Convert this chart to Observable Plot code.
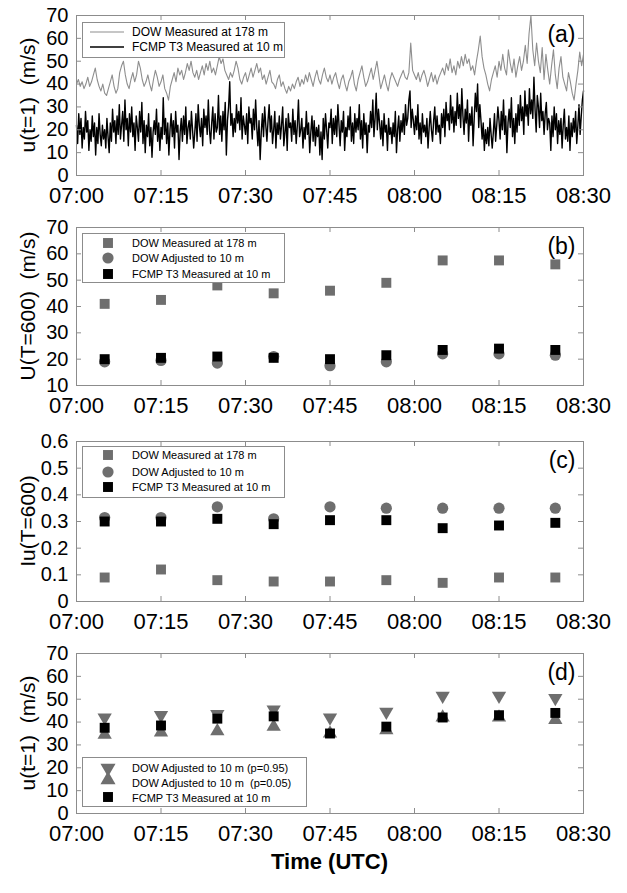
<!DOCTYPE html>
<html>
<head>
<meta charset="utf-8">
<script src="https://cdn.jsdelivr.net/npm/d3@7"></script>
<script src="https://cdn.jsdelivr.net/npm/@observablehq/plot@0.6"></script>
<style>
  body { margin: 0; background: #fff; }
  #page { position: relative; width: 627px; height: 893px; overflow: hidden;
          font-family: "Liberation Sans", Arial, Helvetica, sans-serif; background: #fff; }
  #page > svg { position: absolute; left: 0; }
  #xtitle { position: absolute; left: 76px; width: 507px; top: 849px; text-align: center;
            font-weight: bold; font-size: 22px; }
</style>
</head>
<body>
<div id="page"><div id="xtitle">Time (UTC)</div></div>
<script>
// ---- time axis (minutes after 07:00 UTC) ----
const xTicks = [0, 15, 30, 45, 60, 75, 90];
const xTickLabels = ["07:00", "07:15", "07:30", "07:45", "08:00", "08:15", "08:30"];

// ---- (a) 1-second gust series ----
// DOW at 178 m, one value every 20 s
const dowStepMin = 1 / 3;
const dow178Gust = [
  40,42,39, 41,38,40, 43,39,41, 44,47,42, 39,37,40,
  36,35,38, 41,44,39, 36,38,45, 48,50,44, 40,38,42,
  45,41,44, 50,47,42, 39,41,44, 40,37,42, 46,43,39,
  41,44,38, 36,33,39, 42,45,41, 47,44,46, 42,45,49,
  46,50,45, 43,46,42, 45,48,44, 49,46,50, 45,47,44,
  48,52,49, 51,46,44, 42,45,43, 46,50,47, 42,40,43,
  45,41,44, 47,43,46, 49,45,47, 42,44,40, 43,46,41,
  40,38,42, 44,39,41, 38,36,39, 37,40,38, 41,43,39,
  42,40,44, 41,45,42, 39,43,46, 42,40,44, 47,43,41,
  44,40,43, 45,41,38, 42,44,40, 37,41,43, 46,40,37,
  42,45,48, 43,39,41, 44,47,42, 46,50,44, 38,41,44,
  40,37,42, 45,43,41, 39,42,44, 46,43,42, 45,58,46,
  44,42,45, 41,44,46, 43,39,42, 45,41,44, 40,43,45,
  47,44,49, 46,51,45, 48,44,50, 47,52,48, 53,49,51,
  46,48,44, 50,55,61, 52,47,44, 40,37,42, 45,48,43,
  50,46,53, 47,44,55, 49,45,51, 43,48,52, 46,50,57,
  49,62,70, 55,48,58, 50,45,56, 42,53,46, 40,48,55,
  44,38,47, 52,43,40, 37,45,41, 36,33,40, 46,54,48,
  53
];
// FCMP T3 at 10 m, one value every 12 s
const fcmpStepMin = 0.2;
const fcmpGust = [
  22,14,27,18,25, 12,21,16,28,19, 24,11,20,15,26, 17,23,9,21,14, 27,18,13,22,16,
  20,12,25,17,10, 23,15,29,19,24, 14,26,18,31,16, 22,28,15,33,20, 25,13,27,19,30,
  17,23,11,26,21, 15,28,19,32,14, 24,10,22,17,27, 13,21,8,19,24, 18,29,15,23,11,
  21,16,34,18,25, 14,23,9,20,27, 17,24,12,28,19, 22,7,19,25,15, 26,18,30,14,21,
  24,16,28,20,12, 19,27,15,31,22, 17,25,13,29,21, 26,18,33,20,14, 23,30,16,27,19,
  21,35,18,26,15, 28,20,32,9,24, 30,41,22,27,17, 25,19,31,23,28, 20,34,16,26,22,
  18,27,14,30,23, 25,16,29,20,33, 21,13,24,7,19, 27,17,30,22,15, 24,31,19,26,14,
  20,28,12,23,18, 26,16,22,30,13, 19,25,11,27,21, 23,15,29,18,24, 14,22,33,17,20,
  25,12,21,16,28, 18,23,10,19,26, 15,24,13,21,17, 22,9,19,7,25, 16,27,20,12,23,
  21,29,14,25,18, 26,17,31,22,13, 24,19,28,11,21, 17,26,20,30,15, 23,14,27,19,25,
  20,31,16,24,12, 27,18,23,10,22, 19,28,21,33,17, 25,36,20,29,23, 16,24,13,27,19,
  22,11,25,18,21, 14,23,17,28,10, 20,26,15,24,19, 27,18,31,22,25, 33,37,21,29,24,
  18,26,20,31,16, 23,14,27,19,22, 17,25,12,21,28, 20,15,24,30,18, 26,19,22,14,27,
  21,29,17,32,24, 27,20,35,23,30, 19,28,22,36,25, 31,21,38,26,18, 29,23,33,15,27,
  22,30,13,25,36, 28,40,21,31,24, 16,23,11,20,14, 21,13,25,18,12, 19,27,15,22,30,
  24,16,28,20,33, 18,26,10,23,29, 21,34,17,25,14, 27,19,31,22,35, 24,30,18,37,26,
  31,22,38,27,33, 25,43,29,19,35, 30,21,36,24,28, 18,27,32,20,25, 23,11,26,17,30,
  20,27,14,24,18, 25,12,22,29,16, 21,15,26,11,23, 17,25,19,28,14, 22,31,18,26,33,
  37
];

// ---- (b)-(d) ten-minute statistics, centred on each interval ----
const intervalMid = [5, 15, 25, 35, 45, 55, 65, 75, 85];
const meanDow178 = [41, 42.5, 48, 45, 46, 49, 57.5, 57.5, 56];
const meanDowAdj10 = [19, 19.5, 18.5, 21, 17.5, 19, 22, 22, 21.5];
const meanFcmp10 = [20, 20.5, 21, 20.5, 20, 21.5, 23.5, 24, 23.5];

const iuDow178 = [0.09, 0.12, 0.08, 0.075, 0.075, 0.08, 0.07, 0.09, 0.09];
const iuDowAdj10 = [0.315, 0.315, 0.355, 0.31, 0.355, 0.35, 0.35, 0.35, 0.35];
const iuFcmp10 = [0.30, 0.30, 0.31, 0.29, 0.305, 0.305, 0.275, 0.285, 0.295];

const gustDowP95 = [42, 43, 43.5, 45.5, 42, 44.5, 51.5, 51.5, 50.5];
const gustDowP05 = [34.5, 35.5, 36, 38, 35, 36.5, 42, 42, 41];
const gustFcmp10 = [37.5, 38.5, 41.5, 42.5, 35, 38, 42, 43, 44];

// ---- styling ----
const FONT = '"Liberation Sans", Arial, Helvetica, sans-serif';
const GRAY = "#6e6e6e";
const LINE_GRAY = "#8e8e8e";
const FRAME = "#8c8c8c";
const SQ_R = 5.6, CIRC_R = 5.6, TRI_R = 5.3;

// downward-pointing triangle, mirror of d3.symbolTriangle
const triangleDown = {
  draw(context, size) {
    const s3 = Math.sqrt(3);
    const y = -Math.sqrt(size / (s3 * 3));
    context.moveTo(0, -y * 2);
    context.lineTo(-s3 * y, y);
    context.lineTo(s3 * y, y);
    context.closePath();
  }
};

const series = (values, step) => values.map((v, i) => ({t: i * step, v}));
const points = (values) => values.map((v, i) => ({t: intervalMid[i], v}));

const page = document.getElementById("page");

function panel({top, innerH, yDomain, yTicks, yFormat = String, yLabel, tag, marks}) {
  const W = 627, ml = 76, mr = 44, mt = 15, mb = 35;
  const innerW = W - ml - mr;
  const svg = Plot.plot({
    width: W, height: mt + innerH + mb,
    marginLeft: ml, marginRight: mr, marginTop: mt, marginBottom: mb,
    style: {fontFamily: FONT, fontSize: "20px", background: "transparent", overflow: "visible", color: "#000"},
    x: {domain: [0, 90]},
    y: {domain: yDomain},
    marks: [
      ...marks,
      Plot.frame({stroke: FRAME}),
      Plot.tickX(xTicks, {x: d => d, insetTop: innerH - 5, stroke: FRAME}),
      Plot.tickX(xTicks, {x: d => d, insetBottom: innerH - 5, stroke: FRAME}),
      Plot.tickY(yTicks, {y: d => d, insetRight: innerW - 5, stroke: FRAME}),
      Plot.tickY(yTicks, {y: d => d, insetLeft: innerW - 5, stroke: FRAME}),
      Plot.axisX(xTicks, {tickSize: 0, tickPadding: 12, fontSize: 22, label: null,
        tickFormat: d => xTickLabels[xTicks.indexOf(d)]}),
      Plot.axisY(yTicks, {tickSize: 0, tickPadding: 8, fontSize: 20, label: null, tickFormat: yFormat}),
      Plot.text([tag], {frameAnchor: "top-right", dx: -8, dy: 19, lineAnchor: "middle", textAnchor: "end", fontSize: 23})
    ]
  });
  // rotated y-axis title, centred on the frame
  d3.select(svg).append("text")
    .attr("transform", `translate(28,${mt + innerH / 2}) rotate(-90)`)
    .attr("text-anchor", "middle").attr("dy", "0.35em")
    .attr("font-family", FONT).attr("font-size", 21).attr("fill", "#000")
    .text(yLabel);
  svg.style.top = top + "px";
  page.appendChild(svg);
}

function legend({left, top, width, height, fontSize, rows}) {
  const svg = d3.create("svg")
    .attr("width", width).attr("height", height)
    .style("position", "absolute").style("left", left + "px").style("top", top + "px")
    .style("font-family", FONT);
  svg.append("rect").attr("x", 0.5).attr("y", 0.5)
    .attr("width", width - 1).attr("height", height - 1)
    .attr("fill", "#fff").attr("stroke", FRAME);
  for (const r of rows) {
    if (r.line) {
      svg.append("line").attr("x1", 8).attr("x2", 42).attr("y1", r.sy).attr("y2", r.sy)
        .attr("stroke", r.color).attr("stroke-width", r.width);
    } else {
      svg.append("path").attr("transform", `translate(26,${r.sy})`)
        .attr("d", d3.symbol(r.symbol, r.r * r.r * Math.PI)())
        .attr("fill", r.color);
    }
    svg.append("text").attr("x", 50).attr("y", r.ty).attr("dy", "0.35em")
      .attr("font-size", fontSize).attr("fill", "#000").text(r.label);
  }
  page.appendChild(svg.node());
}

// (a) 1-s gusts
panel({
  top: 0, innerH: 160, yDomain: [0, 70], yTicks: [0, 10, 20, 30, 40, 50, 60, 70],
  yLabel: "u(t=1)\u00a0\u00a0(m/s)", tag: "(a)",
  marks: [
    Plot.line(series(fcmpGust, fcmpStepMin), {x: "t", y: "v", stroke: "#000", strokeWidth: 1.4}),
    Plot.line(series(dow178Gust, dowStepMin), {x: "t", y: "v", stroke: LINE_GRAY, strokeWidth: 1.1})
  ]
});
legend({left: 82, top: 22, width: 203, height: 36, fontSize: 12, rows: [
  {line: true, sy: 10, ty: 10, color: LINE_GRAY, width: 1.1, label: "DOW Measured at 178 m"},
  {line: true, sy: 25, ty: 25, color: "#000", width: 1.4, label: "FCMP T3 Measured at 10 m"}
]});

// (b) 10-min mean wind
panel({
  top: 212, innerH: 158, yDomain: [10, 70], yTicks: [10, 20, 30, 40, 50, 60, 70],
  yLabel: "U(T=600)\u00a0\u00a0(m/s)", tag: "(b)",
  marks: [
    Plot.dot(points(meanDow178), {x: "t", y: "v", symbol: "square", r: SQ_R, fill: GRAY}),
    Plot.dot(points(meanDowAdj10), {x: "t", y: "v", symbol: "circle", r: CIRC_R, fill: GRAY}),
    Plot.dot(points(meanFcmp10), {x: "t", y: "v", symbol: "square", r: SQ_R, fill: "#000"})
  ]
});
legend({left: 82, top: 233, width: 203, height: 50, fontSize: 11, rows: [
  {symbol: d3.symbolSquare, r: SQ_R, sy: 10, ty: 10, color: GRAY, label: "DOW Measured at 178 m"},
  {symbol: d3.symbolCircle, r: CIRC_R, sy: 25, ty: 25, color: GRAY, label: "DOW Adjusted to 10 m"},
  {symbol: d3.symbolSquare, r: SQ_R, sy: 41, ty: 41, color: "#000", label: "FCMP T3 Measured at 10 m"}
]});

// (c) turbulence intensity
panel({
  top: 426, innerH: 160, yDomain: [0, 0.6], yTicks: [0, 0.1, 0.2, 0.3, 0.4, 0.5, 0.6],
  yLabel: "Iu(T=600)", tag: "(c)",
  marks: [
    Plot.dot(points(iuDow178), {x: "t", y: "v", symbol: "square", r: SQ_R, fill: GRAY}),
    Plot.dot(points(iuDowAdj10), {x: "t", y: "v", symbol: "circle", r: CIRC_R, fill: GRAY}),
    Plot.dot(points(iuFcmp10), {x: "t", y: "v", symbol: "square", r: SQ_R, fill: "#000"})
  ]
});
legend({left: 82, top: 446, width: 203, height: 52, fontSize: 11, rows: [
  {symbol: d3.symbolSquare, r: SQ_R, sy: 9, ty: 9, color: GRAY, label: "DOW Measured at 178 m"},
  {symbol: d3.symbolCircle, r: CIRC_R, sy: 26, ty: 26, color: GRAY, label: "DOW Adjusted to 10 m"},
  {symbol: d3.symbolSquare, r: SQ_R, sy: 41, ty: 41, color: "#000", label: "FCMP T3 Measured at 10 m"}
]});

// (d) 1-s gust percentiles
panel({
  top: 638, innerH: 160, yDomain: [0, 70], yTicks: [0, 10, 20, 30, 40, 50, 60, 70],
  yLabel: "u(t=1)\u00a0\u00a0(m/s)", tag: "(d)",
  marks: [
    Plot.dot(points(gustDowP95), {x: "t", y: "v", symbol: triangleDown, r: TRI_R, fill: GRAY}),
    Plot.dot(points(gustDowP05), {x: "t", y: "v", symbol: "triangle", r: TRI_R, fill: GRAY}),
    Plot.dot(points(gustFcmp10), {x: "t", y: "v", symbol: "square", r: SQ_R, fill: "#000"})
  ]
});
legend({left: 82, top: 757, width: 225, height: 50, fontSize: 11, rows: [
  {symbol: triangleDown, r: 5.6, sy: 11, ty: 11, color: GRAY, label: "DOW Adjusted to 10 m (p=0.95)"},
  {symbol: d3.symbolTriangle, r: 5.6, sy: 23, ty: 26, color: GRAY, label: "DOW Adjusted to 10 m \u00a0(p=0.05)"},
  {symbol: d3.symbolSquare, r: SQ_R, sy: 40, ty: 41, color: "#000", label: "FCMP T3 Measured at 10 m"}
]});
</script>
</body>
</html>
